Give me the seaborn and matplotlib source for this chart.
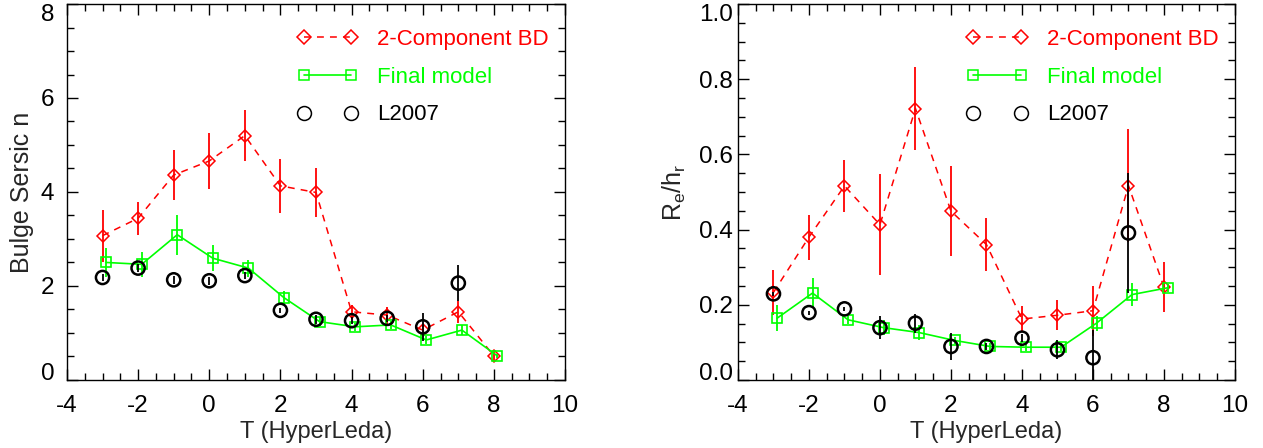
import numpy as np
import pandas as pd
import matplotlib
matplotlib.use("Agg")
import matplotlib.pyplot as plt
import seaborn as sns
from matplotlib.lines import Line2D
from matplotlib.ticker import MultipleLocator, FormatStrFormatter

# Hubble type T (HyperLeda)
t_bd = [-3, -2, -1, 0, 1, 2, 3, 4, 5, 6, 7, 8]
t_final = [-2.9, -1.9, -0.9, 0.1, 1.1, 2.1, 3.1, 4.1, 5.1, 6.1, 7.1, 8.1]
t_l07 = [-3, -2, -1, 0, 1, 2, 3, 4, 5, 6, 7]

# bulge Sersic index n
n_bd = [3.07, 3.44, 4.36, 4.66, 5.20, 4.13, 3.99, 1.45, 1.38, 1.06, 1.45, 0.51]
n_bd_err = [0.55, 0.35, 0.53, 0.60, 0.55, 0.57, 0.52, 0.15, 0.18, 0.10, 0.23, 0.13]
n_final = [2.50, 2.46, 3.09, 2.59, 2.38, 1.75, 1.24, 1.13, 1.17, 0.85, 1.06, 0.51]
n_final_err = [0.30, 0.27, 0.43, 0.28, 0.18, 0.15, 0.10, 0.08, 0.08, 0.08, 0.10, 0.05]
n_l07 = [2.18, 2.38, 2.13, 2.11, 2.22, 1.48, 1.29, 1.26, 1.31, 1.13, 2.06]
n_l07_err = [0.08, 0.08, 0.08, 0.08, 0.08, 0.06, 0.10, 0.08, 0.08, 0.30, 0.38]

# Re / hr
r_bd = [0.233, 0.380, 0.516, 0.413, 0.722, 0.449, 0.360, 0.162, 0.172, 0.184, 0.517, 0.247]
r_bd_err = [0.060, 0.060, 0.070, 0.135, 0.110, 0.120, 0.070, 0.035, 0.040, 0.066, 0.150, 0.067]
r_final = [0.164, 0.231, 0.160, 0.139, 0.126, 0.105, 0.089, 0.087, 0.087, 0.151, 0.227, 0.245]
r_final_err = [0.035, 0.040, 0.010, 0.020, 0.020, 0.010, 0.010, 0.010, 0.010, 0.020, 0.030, 0.010]
r_l07 = [0.229, 0.179, 0.189, 0.139, 0.151, 0.089, 0.089, 0.111, 0.080, 0.059, 0.391]
r_l07_err = [0.005, 0.005, 0.005, 0.030, 0.025, 0.035, 0.010, 0.010, 0.025, 0.075, 0.160]

sns.set_style("ticks")
plt.rcParams["font.family"] = ["Liberation Sans", "DejaVu Sans"]
plt.rcParams["mathtext.fontset"] = "custom"
plt.rcParams["mathtext.rm"] = "Liberation Sans"
plt.rcParams["mathtext.it"] = "Liberation Sans"
plt.rcParams["axes.unicode_minus"] = False
TICK_FS = 17.5
LABEL_FS = 17
LEG_FS = 16

RED = "#ff0000"
GREEN = "#00ff00"


def panel(ax, yb, yb_err, yf, yf_err, yl, yl_err, ylabel, ylim, ymajor, yminor, yfmt,
          ypad, ylabelpad):
    df_bd = pd.DataFrame({"T": t_bd, "v": yb})
    df_f = pd.DataFrame({"T": t_final, "v": yf})
    df_l = pd.DataFrame({"T": t_l07, "v": yl})

    ax.errorbar(t_bd, yb, yerr=yb_err, fmt="none", ecolor=RED, elinewidth=1.3, capsize=0, zorder=2)
    sns.lineplot(data=df_bd, x="T", y="v", ax=ax, estimator=None, sort=False,
                 color=RED, linestyle=(0, (4.5, 4)), linewidth=1.1,
                 marker="D", markersize=6.5, markerfacecolor="none",
                 markeredgecolor=RED, markeredgewidth=1.1, zorder=3)
    ax.errorbar(t_final, yf, yerr=yf_err, fmt="none", ecolor=GREEN, elinewidth=1.3, capsize=0, zorder=4)
    sns.lineplot(data=df_f, x="T", y="v", ax=ax, estimator=None, sort=False,
                 color=GREEN, linewidth=1.2,
                 marker="s", markersize=6.5, markerfacecolor="none",
                 markeredgecolor=GREEN, markeredgewidth=1.2, zorder=5)
    ax.errorbar(t_l07, yl, yerr=yl_err, fmt="none", ecolor="black", elinewidth=1.3, capsize=0, zorder=6)
    sns.scatterplot(data=df_l, x="T", y="v", ax=ax, s=90, facecolor="none",
                    edgecolor="black", linewidth=1.8, zorder=7)

    ax.set_xlim(-4, 10)
    ax.set_ylim(*ylim)
    ax.xaxis.set_major_locator(MultipleLocator(2))
    ax.xaxis.set_minor_locator(MultipleLocator(0.5))
    ax.yaxis.set_major_locator(MultipleLocator(ymajor))
    ax.yaxis.set_minor_locator(MultipleLocator(yminor))
    ax.yaxis.set_major_formatter(FormatStrFormatter(yfmt))
    ax.tick_params(which="both", direction="in", top=True, right=True, labelsize=TICK_FS, width=1, colors="black")
    ax.tick_params(which="major", length=8)
    ax.tick_params(which="minor", length=5)
    ax.tick_params(axis="x", which="major", pad=11)
    ax.tick_params(axis="y", which="major", pad=ypad)
    for s in ax.spines.values():
        s.set_visible(True)
        s.set_linewidth(1.0)
        s.set_color("black")
    ax.set_xlabel("T (HyperLeda)", fontsize=LABEL_FS, labelpad=3)
    ax.set_ylabel(ylabel, fontsize=18, labelpad=ylabelpad)

    handles = [
        Line2D([], [], color=RED, linestyle=(0, (4.5, 4)), linewidth=1.1, marker="D", markersize=7,
               markerfacecolor="none", markeredgecolor=RED, markeredgewidth=1.1),
        Line2D([], [], color=GREEN, linewidth=1.2, marker="s", markersize=7.5,
               markerfacecolor="none", markeredgecolor=GREEN, markeredgewidth=1.1),
        Line2D([], [], color="black", linestyle="none", marker="o", markersize=10,
               markerfacecolor="none", markeredgecolor="black", markeredgewidth=1.1),
    ]
    leg = ax.legend(handles, ["2-Component BD", "Final model", "L2007"], loc="upper right",
                    bbox_to_anchor=(0.998, 0.975), frameon=False, numpoints=2, fontsize=LEG_FS,
                    handlelength=2.75, handletextpad=0.85, labelspacing=0.75, borderpad=0.2)
    for txt, c in zip(leg.get_texts(), [RED, GREEN, "black"]):
        txt.set_color(c)


fig = plt.figure(figsize=(12.63, 4.48), dpi=100)
ax1 = fig.add_axes([0.053, 0.152, 0.3944, 0.839])
ax2 = fig.add_axes([0.5843, 0.152, 0.3935, 0.839])

panel(ax1, n_bd, n_bd_err, n_final, n_final_err, n_l07, n_l07_err,
      "Bulge Sersic n", (0, 8), 2, 0.5, "%d", 9, 5)
panel(ax2, r_bd, r_bd_err, r_final, r_final_err, r_l07, r_l07_err,
      r"$\mathrm{R_e/h_r}$", (0, 1.0), 0.2, 0.05, "%.1f", 3.5, 8)

# keep the end labels of the y axis inside the frame, as in the original
fig.canvas.draw()
for ax in (ax1, ax2):
    lo, hi = ax.get_ylim()
    for tk, loc in zip(ax.yaxis.get_major_ticks(), ax.yaxis.get_majorticklocs()):
        if np.isclose(loc, lo):
            tk.label1.set_verticalalignment("baseline")
        elif np.isclose(loc, hi):
            tk.label1.set_verticalalignment("top")

fig.savefig("out.png", dpi=100)
